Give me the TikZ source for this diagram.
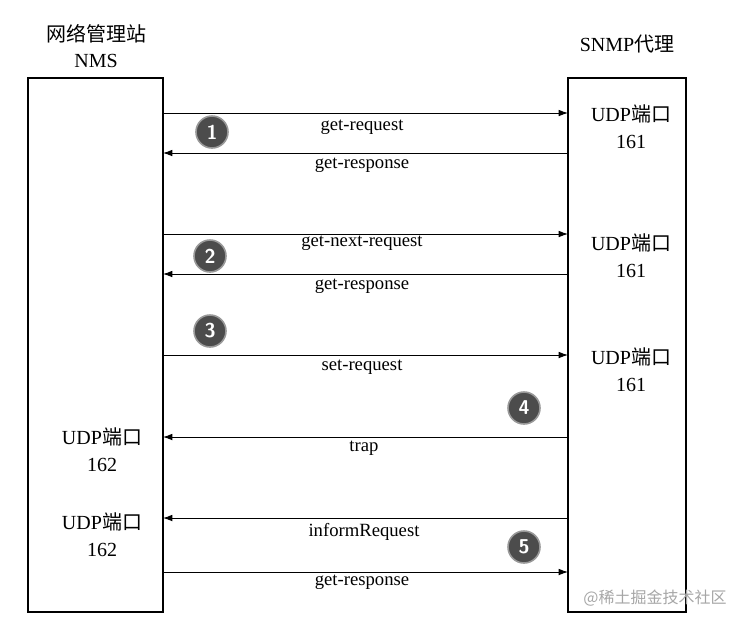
\documentclass[tikz,border=0pt]{standalone}
\usepackage{fontspec}
\setmainfont{Liberation Serif}
\newfontfamily\cjk{Noto Sans CJK SC}
\usetikzlibrary{arrows.meta}
\tikzset{
  box/.style={draw,line width=0.8pt},
  msg/.style={line width=0.7pt,-{Latex[length=7pt,width=5pt]}},
  lbl/.style={font=\fontsize{14}{16}\selectfont},
  num/.style={circle,fill=black!70,draw=black!40,line width=1.2pt,text=white,font=\bfseries\fontsize{15}{15}\selectfont\sffamily,inner sep=0pt,minimum size=24pt},
  udp/.style={font=\fontsize{15}{20}\selectfont,align=center}
}
\begin{document}
\begin{tikzpicture}[x=0.75pt,y=-0.75pt]
\useasboundingbox (0,0) rectangle (742,626);
\draw[box] (28,78) rectangle (163,612);
\draw[box] (568,78) rectangle (686,612);
\node[udp] (t1) at (96,46) {{\cjk 网络管理站}\\NMS};
\node[udp] (t2) at (627,44) {SNMP{\cjk 代理}};
\foreach \n/\y in {a/113,b/153,c/234,d/274,e/355,f/437,g/518,h/572}{
  \coordinate (L\n) at (163,\y); \coordinate (R\n) at (568,\y);}
\draw[msg] (La)--(Ra); \draw[msg] (Rb)--(Lb);
\draw[msg] (Lc)--(Rc); \draw[msg] (Rd)--(Ld);
\draw[msg] (Le)--(Re); \draw[msg] (Rf)--(Lf);
\draw[msg] (Rg)--(Lg); \draw[msg] (Lh)--(Rh);
\node[lbl] (m1) at (362,127) {get-request};
\node[lbl] (m2) at (362,165) {get-response};
\node[lbl] (m3) at (362,243) {get-next-request};
\node[lbl] (m4) at (362,286) {get-response};
\node[lbl] (m5) at (362,367) {set-request};
\node[lbl] (m6) at (364,448) {trap};
\node[lbl] (m7) at (364,532) {informRequest};
\node[lbl] (m8) at (362,582) {get-response};
\node[num] (n1) at (212,132) {1};
\node[num] (n2) at (210,256) {2};
\node[num] (n3) at (210,331) {3};
\node[num] (n4) at (524,408) {4};
\node[num] (n5) at (524,547) {5};
\node[udp] (u1) at (631,127) {UDP{\cjk 端口}\\161};
\node[udp] (u2) at (631,256) {UDP{\cjk 端口}\\161};
\node[udp] (u3) at (631,370) {UDP{\cjk 端口}\\161};
\node[udp] (u4) at (102,450) {UDP{\cjk 端口}\\162};
\node[udp] (u5) at (102,535) {UDP{\cjk 端口}\\162};
\node[text=black!35,font=\cjk\fontsize{12}{12}\selectfont] (w) at (655,598) {@稀土掘金技术社区};
\end{tikzpicture}
\end{document}
